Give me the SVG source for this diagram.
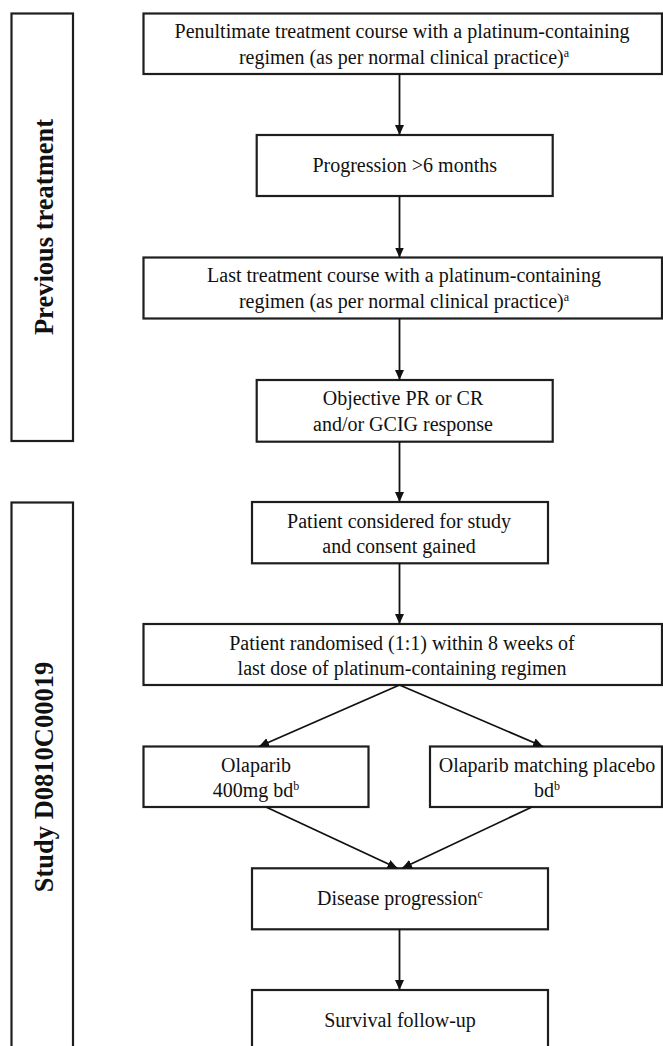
<svg xmlns="http://www.w3.org/2000/svg" width="663" height="1046" viewBox="0 0 663 1046">
<style>
.box{fill:#fff;stroke:#1e1e1e;stroke-width:2.2}
.t{font-family:"Liberation Serif","Times New Roman",serif;font-size:20px;fill:#111;text-anchor:middle}
.v{font-family:"Liberation Serif","Times New Roman",serif;font-size:26.5px;font-weight:bold;fill:#111;text-anchor:middle}
.sup{font-size:12px}
.c{stroke:#111;stroke-width:1.8;fill:none;marker-end:url(#ah)}
</style>
<defs>
<marker id="ah" markerUnits="userSpaceOnUse" markerWidth="10" markerHeight="10" refX="10" refY="4.5" orient="auto">
<path d="M0,0 L10,4.5 L0,9 z" fill="#111"/>
</marker>
</defs>
<rect width="663" height="1046" fill="#fff"/>
<g id="label-previous">
<rect class="box" x="11.5" y="13.5" width="61.5" height="427.5"/>
<text class="v" transform="translate(53,227) rotate(-90)">Previous treatment</text>
</g>
<g id="label-study">
<rect class="box" x="11.5" y="502.5" width="61.5" height="550"/>
<text class="v" transform="translate(53,777) rotate(-90)">Study D0810C00019</text>
</g>
<g id="n1">
<rect class="box" x="143.5" y="13.5" width="518.5" height="60.5"/>
<text class="t" x="402" y="38">Penultimate treatment course with a platinum-containing</text>
<text class="t" x="404" y="63.5">regimen (as per normal clinical practice)<tspan class="sup" dy="-7">a</tspan></text>
</g>
<g id="n2">
<rect class="box" x="256.7" y="135" width="296" height="61"/>
<text class="t" x="404.7" y="172">Progression &gt;6 months</text>
</g>
<g id="n3">
<rect class="box" x="143.5" y="257.5" width="518.5" height="61"/>
<text class="t" x="404" y="282">Last treatment course with a platinum-containing</text>
<text class="t" x="404" y="307.5">regimen (as per normal clinical practice)<tspan class="sup" dy="-7">a</tspan></text>
</g>
<g id="n4">
<rect class="box" x="256.7" y="380" width="296" height="61.7"/>
<text class="t" x="403" y="405">Objective PR or CR</text>
<text class="t" x="403" y="431">and/or GCIG response</text>
</g>
<g id="n5">
<rect class="box" x="252" y="502" width="296" height="61.3"/>
<text class="t" x="399" y="528">Patient considered for study</text>
<text class="t" x="399" y="553">and consent gained</text>
</g>
<g id="n6">
<rect class="box" x="143.5" y="624" width="518.5" height="61"/>
<text class="t" x="402" y="649.5">Patient randomised (1:1) within 8 weeks of</text>
<text class="t" x="402" y="675">last dose of platinum-containing regimen</text>
</g>
<g id="n7">
<rect class="box" x="143.5" y="746.5" width="225" height="60.5"/>
<text class="t" x="256" y="772">Olaparib</text>
<text class="t" x="256" y="797">400mg bd<tspan class="sup" dy="-7">b</tspan></text>
</g>
<g id="n8">
<rect class="box" x="430" y="746.5" width="232" height="60.5"/>
<text class="t" x="547" y="772">Olaparib matching placebo</text>
<text class="t" x="547" y="797">bd<tspan class="sup" dy="-7">b</tspan></text>
</g>
<g id="n9">
<rect class="box" x="252" y="868.3" width="296" height="61"/>
<text class="t" x="400" y="905">Disease progression<tspan class="sup" dy="-7">c</tspan></text>
</g>
<g id="n10">
<rect class="box" x="252" y="990" width="296" height="62"/>
<text class="t" x="400" y="1027">Survival follow-up</text>
</g>
<g id="connectors">
<line class="c" x1="399.5" y1="74" x2="399.5" y2="135"/>
<line class="c" x1="399.5" y1="196" x2="399.5" y2="257.5"/>
<line class="c" x1="399.5" y1="318.5" x2="399.5" y2="380"/>
<line class="c" x1="399.5" y1="441.7" x2="399.5" y2="502"/>
<line class="c" x1="399.5" y1="563.3" x2="399.5" y2="624"/>
<line class="c" x1="399.5" y1="685" x2="259" y2="746.5"/>
<line class="c" x1="399.5" y1="685" x2="543" y2="746.5"/>
<line class="c" x1="266" y1="807" x2="397.5" y2="868.3"/>
<line class="c" x1="532" y1="807" x2="402" y2="868.3"/>
<line class="c" x1="399.5" y1="929.3" x2="399.5" y2="990"/>
</g>
</svg>
